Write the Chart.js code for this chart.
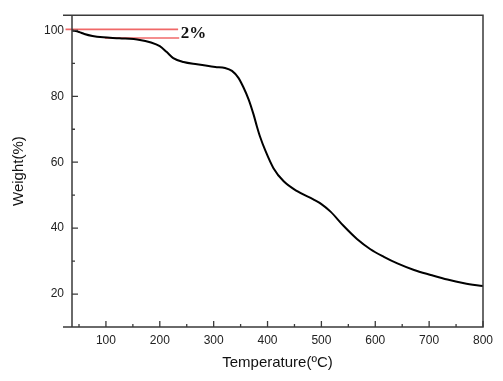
<!DOCTYPE html>
<html><head><meta charset="utf-8">
<script src="https://cdn.jsdelivr.net/npm/chart.js@4.4.1/dist/chart.umd.min.js"></script>
<style>html,body{margin:0;padding:0;background:#fff}#wrap{width:503px;height:381px;position:relative}</style>
</head><body><div id="wrap"><canvas id="c" width="503" height="381"></canvas></div>
<script>
// Data
const temperature = [37,50,60,75,95,125,163,182,200,213,225,244,269,303,321,334,346,355,365,374,380,386,396,411,430,455,485,500,517,541,566,591,616,641,672,703,734,765,800];
const weight = [100.0,99.5,98.9,98.3,97.9,97.6,97.1,96.4,95.2,93.4,91.6,90.4,89.7,88.9,88.6,87.7,85.6,82.8,79.0,74.5,71.0,67.8,63.5,58.2,54.2,51.2,48.7,47.3,45.0,40.7,36.7,33.6,31.3,29.3,27.3,25.8,24.4,23.3,22.4];
const xTicks = [100,200,300,400,500,600,700,800];
const xMinor = [50,150,250,350,450,550,650,750];
const yTicks = [20,40,60,80,100];
const yMinor = [30,50,70,90];
const refUpperX = [25,234];   const refUpperY = [100.3,100.3];
const refLowerX = [98,236];   const refLowerY = [97.7,97.7];
const lossLabel = '2%';
const lossLabelX = 239, lossLabelY = 99.1;

const frame = {
  id:'frame',
  afterDraw(chart){
    const {ctx, chartArea:a, scales:{x,y}} = chart;
    ctx.save();
    ctx.strokeStyle='#3a3a3a'; ctx.lineWidth=1.5;
    ctx.beginPath();
    ctx.moveTo(a.left-9, a.top); ctx.lineTo(a.right, a.top); ctx.lineTo(a.right, a.bottom); ctx.lineTo(a.left-9, a.bottom);
    ctx.moveTo(a.left, a.top); ctx.lineTo(a.left, a.bottom);
    ctx.stroke();
    ctx.lineWidth=1.3;
    ctx.beginPath();
    xTicks.forEach(v=>{const p=x.getPixelForValue(v); ctx.moveTo(p,a.bottom); ctx.lineTo(p,a.bottom-6);});
    xMinor.forEach(v=>{const p=x.getPixelForValue(v); ctx.moveTo(p,a.bottom); ctx.lineTo(p,a.bottom-3);});
    yTicks.forEach(v=>{const p=y.getPixelForValue(v); ctx.moveTo(a.left,p); ctx.lineTo(a.left+6,p);});
    yMinor.forEach(v=>{const p=y.getPixelForValue(v); ctx.moveTo(a.left,p); ctx.lineTo(a.left+3,p);});
    ctx.stroke();
    ctx.fillStyle='#111';
    ctx.font='bold 17px "Liberation Serif", serif';
    ctx.textBaseline='middle'; ctx.textAlign='left';
    ctx.fillText(lossLabel, x.getPixelForValue(lossLabelX), y.getPixelForValue(lossLabelY));
    ctx.restore();
  }
};

new Chart(document.getElementById('c'), {
  type:'line',
  data:{datasets:[
    {data: temperature.map((t,i)=>({x:t,y:weight[i]})), borderColor:'#000', borderWidth:2, pointRadius:0, cubicInterpolationMode:'monotone', fill:false},
    {data: refUpperX.map((t,i)=>({x:t,y:refUpperY[i]})), borderColor:'#f06868', borderWidth:1.6, pointRadius:0, clip:false},
    {data: refLowerX.map((t,i)=>({x:t,y:refLowerY[i]})), borderColor:'#f06868', borderWidth:1.6, pointRadius:0, clip:false}
  ]},
  options:{
    responsive:false, animation:false, devicePixelRatio:1,
    layout:{padding:{left:0,right:20,top:13,bottom:0}},
    plugins:{legend:{display:false}, tooltip:{enabled:false}},
    scales:{
      x:{type:'linear', min:37, max:800,
        afterBuildTicks(s){ s.ticks = xTicks.map(v=>({value:v})); },
        afterFit(s){ s.height = 54; },
        grid:{display:false, drawTicks:false}, border:{display:false},
        ticks:{color:'#222', padding:6, font:{family:'"Liberation Sans", Arial', size:12}, maxRotation:0},
        title:{display:true, text:'Temperature(ºC)', color:'#111', font:{family:'"Liberation Sans", Arial', size:15}, padding:{top:4, bottom:9}}
      },
      y:{type:'linear', min:10, max:104.6,
        afterBuildTicks(s){ s.ticks = yTicks.map(v=>({value:v})); },
        afterFit(s){ s.width = 72; },
        grid:{display:false, drawTicks:false}, border:{display:false},
        ticks:{color:'#222', padding:8, font:{family:'"Liberation Sans", Arial', size:12}},
        title:{display:true, text:'Weight(%)', color:'#111', font:{family:'"Liberation Sans", Arial', size:15}, padding:{top:10, bottom:2}}
      }
    }
  },
  plugins:[frame]
});
</script></body></html>
